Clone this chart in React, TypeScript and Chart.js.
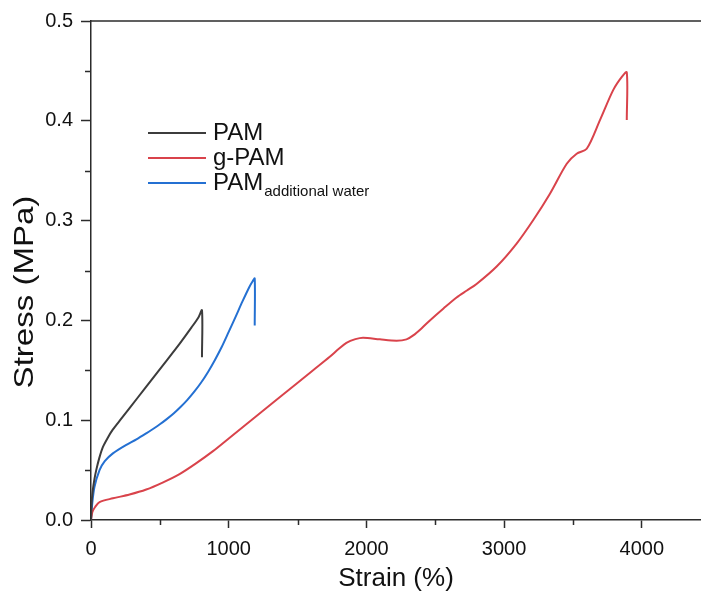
import React, { useEffect, useRef } from "react";
import { Chart, registerables } from "chart.js";

Chart.register(...registerables);

// ---- data ----
const pamStrain = [0, 5, 13, 25, 38, 60, 86, 120, 158, 220, 280, 400, 522, 643, 730, 780, 806, 806];
const pamStress = [0, 0.018, 0.03, 0.041, 0.05, 0.062, 0.073, 0.082, 0.0905, 0.1015, 0.112, 0.1335, 0.155, 0.1765, 0.193, 0.203, 0.21, 0.163];

const gpamStrain = [0, 10, 30, 62, 159, 280, 401, 520, 643, 760, 886, 1007, 1128, 1249, 1370, 1492, 1613, 1734, 1800, 1855, 1920, 1976, 2098, 2219, 2291, 2340, 2400, 2461, 2560, 2655, 2730, 2800, 2946, 3091, 3212, 3333, 3455, 3527, 3600, 3697, 3793, 3855, 3891, 3891];
const gpamStress = [0, 0.008, 0.013, 0.018, 0.0217, 0.0255, 0.0305, 0.0375, 0.046, 0.0565, 0.069, 0.0825, 0.096, 0.1095, 0.123, 0.1365, 0.15, 0.1635, 0.1715, 0.1775, 0.1812, 0.1827, 0.181, 0.1797, 0.181, 0.185, 0.192, 0.2, 0.212, 0.223, 0.23, 0.2365, 0.254, 0.277, 0.3006, 0.327, 0.357, 0.367, 0.372, 0.401, 0.431, 0.444, 0.4486, 0.4008];

const pamWaterStrain = [0, 8, 25, 62, 100, 159, 250, 330, 401, 450, 500, 550, 600, 650, 700, 750, 800, 850, 900, 950, 1000, 1050, 1100, 1150, 1175, 1189, 1189];
const pamWaterStress = [0, 0.015, 0.033, 0.05, 0.059, 0.0668, 0.0748, 0.0808, 0.0868, 0.0912, 0.0959, 0.1011, 0.1067, 0.1132, 0.1204, 0.1286, 0.1378, 0.1484, 0.1604, 0.1736, 0.1885, 0.2036, 0.219, 0.2335, 0.2395, 0.242, 0.195];

const xMajorTicks = [0, 1000, 2000, 3000, 4000];
const xMinorTicks = [500, 1500, 2500, 3500];
const yMajorTicks = [0, 0.1, 0.2, 0.3, 0.4, 0.5];
const yMinorTicks = [0.05, 0.15, 0.25, 0.35, 0.45];

const seriesNames = ["PAM", "g-PAM", "PAM"];
const seriesSubscripts = ["", "", "additional water"];
const seriesColors = ["#3c3c3c", "#d9434b", "#2470d2"];

const xTitle = "Strain (%)";
const yTitle = "Stress (MPa)";

const FONT = "'Liberation Sans', Arial, sans-serif";
const AXIS_COLOR = "#2b2b2b";

function pts(xs: number[], ys: number[]) {
  return xs.map((x, i) => ({ x, y: ys[i] }));
}

const extrasPlugin = {
  id: "extras",
  afterDraw(chart: any) {
    const ctx = chart.ctx;
    const { chartArea } = chart;
    const xs = chart.scales.x;
    const ys = chart.scales.y;
    ctx.save();
    ctx.strokeStyle = AXIS_COLOR;
    ctx.lineWidth = 1.5;
    // top frame line
    ctx.beginPath();
    ctx.moveTo(chartArea.left, chartArea.top);
    ctx.lineTo(chartArea.right, chartArea.top);
    ctx.stroke();
    // minor ticks
    ctx.beginPath();
    xMinorTicks.forEach((v) => {
      const px = Math.round(xs.getPixelForValue(v)) + 0.5;
      ctx.moveTo(px, chartArea.bottom);
      ctx.lineTo(px, chartArea.bottom + 5);
    });
    yMinorTicks.forEach((v) => {
      const py = Math.round(ys.getPixelForValue(v)) + 0.5;
      ctx.moveTo(chartArea.left, py);
      ctx.lineTo(chartArea.left - 6, py);
    });
    ctx.stroke();

    // y axis title (slightly stretched along its length, as in the reference)
    ctx.save();
    ctx.translate(25, 292);
    ctx.rotate(-Math.PI / 2);
    ctx.scale(1.18, 1);
    ctx.fillStyle = "#111";
    ctx.font = `28px ${FONT}`;
    ctx.textAlign = "center";
    ctx.textBaseline = "middle";
    ctx.fillText(yTitle, 0, 0);
    ctx.restore();

    // legend
    const lx0 = 148;
    const lx1 = 206;
    const rows = [133, 158, 183];
    rows.forEach((ry, i) => {
      ctx.strokeStyle = seriesColors[i];
      ctx.lineWidth = 2;
      ctx.beginPath();
      ctx.moveTo(lx0, ry);
      ctx.lineTo(lx1, ry);
      ctx.stroke();
      ctx.fillStyle = "#111";
      ctx.font = `24px ${FONT}`;
      ctx.textBaseline = "middle";
      ctx.textAlign = "left";
      ctx.fillText(seriesNames[i], 213, ry);
      if (seriesSubscripts[i]) {
        const w = ctx.measureText(seriesNames[i]).width;
        ctx.font = `15px ${FONT}`;
        ctx.fillText(seriesSubscripts[i], 213 + w + 1, ry + 9);
      }
    });
    ctx.restore();
  },
};

export default function App() {
  const ref = useRef<HTMLCanvasElement | null>(null);

  useEffect(() => {
    if (!ref.current) return;
    const common = {
      showLine: true,
      pointRadius: 0,
      borderWidth: 2,
      tension: 0.3,
      fill: false,
    };
    const chart = new Chart(ref.current, {
      type: "scatter",
      data: {
        datasets: [
          { ...common, label: "PAM", data: pts(pamStrain, pamStress), borderColor: seriesColors[0] },
          { ...common, label: "g-PAM", data: pts(gpamStrain, gpamStress), borderColor: seriesColors[1] },
          { ...common, label: "PAM additional water", data: pts(pamWaterStrain, pamWaterStress), borderColor: seriesColors[2] },
        ],
      },
      options: {
        responsive: false,
        animation: false,
        layout: { padding: { top: 21, right: 0, left: 0, bottom: 0 } },
        plugins: { legend: { display: false }, tooltip: { enabled: false } },
        scales: {
          x: {
            type: "linear",
            min: 0,
            max: 4430,
            afterBuildTicks: (s: any) => {
              s.ticks = xMajorTicks.map((v) => ({ value: v }));
            },
            afterFit: (s: any) => {
              s.height = 80;
            },
            grid: {
              display: true,
              drawOnChartArea: false,
              drawTicks: true,
              tickLength: 8,
              tickColor: AXIS_COLOR,
              tickWidth: 1.5,
            },
            border: { display: true, color: AXIS_COLOR, width: 1.5 },
            ticks: {
              color: "#111",
              font: { family: FONT, size: 20 },
              padding: 9,
              maxRotation: 0,
              callback: (v: any) => String(v),
            },
            title: {
              display: true,
              text: xTitle,
              color: "#111",
              font: { family: FONT, size: 26 },
              padding: { top: 0, bottom: 6 },
            },
          },
          y: {
            type: "linear",
            min: 0,
            max: 0.5,
            afterBuildTicks: (s: any) => {
              s.ticks = yMajorTicks.map((v) => ({ value: v }));
            },
            afterFit: (s: any) => {
              s.width = 91;
            },
            grid: {
              display: true,
              drawOnChartArea: false,
              drawTicks: true,
              tickLength: 10,
              tickColor: AXIS_COLOR,
              tickWidth: 1.5,
            },
            border: { display: true, color: AXIS_COLOR, width: 1.5 },
            ticks: {
              color: "#111",
              font: { family: FONT, size: 20 },
              padding: 8,
              callback: (v: any) => Number(v).toFixed(1),
            },
            title: { display: false, text: yTitle },
          },
        },
      },
      plugins: [extrasPlugin],
    } as any);
    return () => chart.destroy();
  }, []);

  return (
    <div style={{ position: "absolute", left: 0, top: 0, width: 701, height: 600, background: "#fff" }}>
      <canvas ref={ref} width={701} height={600} style={{ display: "block" }} />
    </div>
  );
}
